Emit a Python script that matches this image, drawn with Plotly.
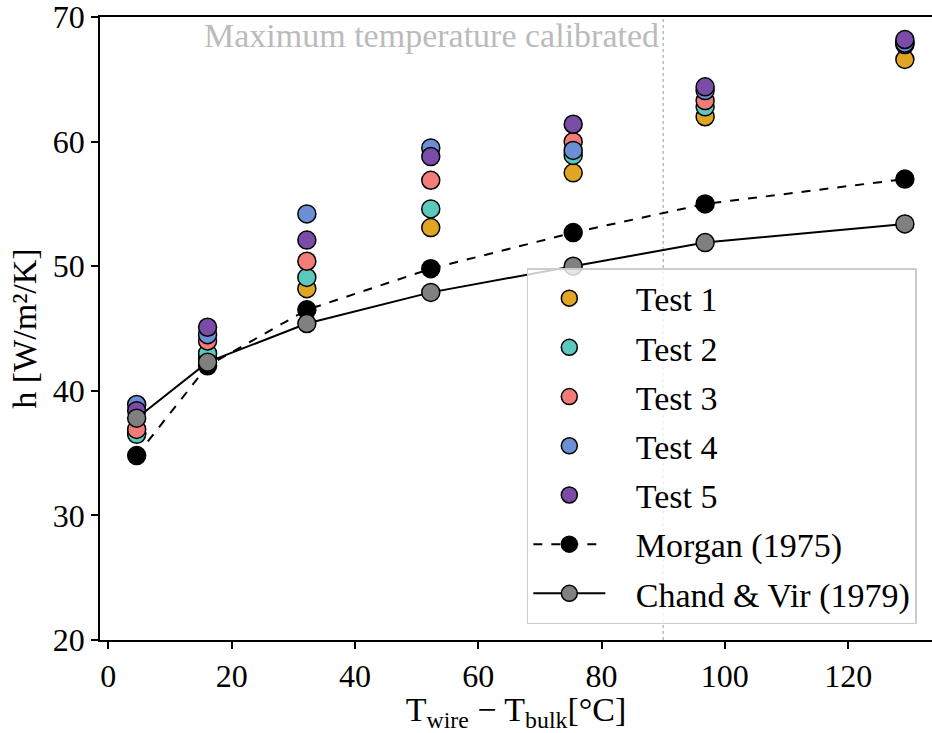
import plotly.graph_objects as go

# ---- data ----
x_vals = [4.6, 16.1, 32.2, 52.3, 75.4, 96.8, 129.2]
test1 = [36.6, 42.6, 48.2, 53.1, 57.5, 62.0, 66.6]
test2 = [36.5, 43.0, 49.1, 54.6, 58.9, 62.8, 67.8]
test3 = [36.9, 44.0, 50.4, 56.9, 60.0, 63.3, 68.0]
test4 = [38.9, 44.5, 54.2, 59.5, 59.3, 64.1, 67.9]
test5 = [38.4, 45.1, 52.1, 58.8, 61.4, 64.4, 68.2]
morgan = [34.8, 42.0, 46.5, 49.8, 52.7, 55.0, 57.0]
chand = [37.8, 42.3, 45.4, 47.9, 50.0, 51.9, 53.4]
max_calib_temp = 90
test_names = ["Test 1", "Test 2", "Test 3", "Test 4", "Test 5"]
test_colors = ["#DFA523", "#5BC9BD", "#F27C78", "#6B8FD4", "#7B4BA8"]

FONT = "Liberation Serif, Times New Roman, serif"
PAD = "&nbsp;&nbsp;&nbsp;"

fig = go.Figure()
for name, ys, col in zip(test_names, [test1, test2, test3, test4, test5], test_colors):
    fig.add_trace(go.Scatter(
        x=x_vals, y=ys, mode="markers", name=PAD + name, legendgroup=name,
        marker=dict(size=18, color=col, line=dict(color="black", width=1.5)),
    ))

fig.add_trace(go.Scatter(
    x=x_vals, y=morgan, mode="lines+markers", name=PAD + "Morgan (1975)", legendgroup="m",
    line=dict(color="black", width=2, dash="dash"),
    marker=dict(size=18, color="black", line=dict(color="black", width=1.5)),
))
fig.add_trace(go.Scatter(
    x=x_vals, y=chand, mode="lines+markers", name=PAD + "Chand &amp; Vir (1979)", legendgroup="c",
    line=dict(color="black", width=2),
    marker=dict(size=18, color="#808080", line=dict(color="black", width=1.5)),
))

fig.add_shape(type="line", x0=max_calib_temp, x1=max_calib_temp, y0=0, y1=1,
              xref="x", yref="paper", layer="below",
              line=dict(color="#BBBBBB", width=1.5, dash="dot"))
fig.add_annotation(x=max_calib_temp, y=1, xref="x", yref="paper",
                   text="Maximum temperature calibrated", showarrow=False,
                   xanchor="right", yanchor="top", xshift=-2, yshift=2,
                   font=dict(family=FONT, size=34, color="#BBBBBB"))

fig.update_layout(
    width=932, height=733,
    margin=dict(l=100, r=0, t=17, b=93),
    paper_bgcolor="white", plot_bgcolor="white",
    font=dict(family=FONT, size=32, color="black"),
    showlegend=True,
    legend=dict(
        x=0.513, y=0.597, xanchor="left", yanchor="top",
        bgcolor="rgba(255,255,255,0.8)", bordercolor="#CCCCCC", borderwidth=1.5,
        font=dict(family=FONT, size=34, color="black"),
        tracegroupgap=2, itemwidth=72,
    ),
    xaxis=dict(
        range=[-1.35, 133.6], tickvals=[0, 20, 40, 60, 80, 100, 120],
        showline=True, linecolor="black", linewidth=1.5, mirror=True,
        ticks="outside", ticklen=7, tickwidth=1.5, tickcolor="black",
        showgrid=False, zeroline=False, ticklabeloverflow="allow",
        title=dict(text="T<sub>wire</sub> − T<sub>bulk</sub>[°C]", standoff=6,
                   font=dict(family=FONT, size=34)),
    ),
    yaxis=dict(
        range=[19.99, 70.01], tickvals=[20, 30, 40, 50, 60, 70],
        showline=True, linecolor="black", linewidth=1.5,
        ticks="outside", ticklen=7, tickwidth=1.5, tickcolor="black",
        showgrid=False, zeroline=False, ticklabeloverflow="allow",
        title=dict(text="h [W/m²/K]", standoff=6, font=dict(family=FONT, size=34)),
    ),
)

fig.write_html("out.html")
